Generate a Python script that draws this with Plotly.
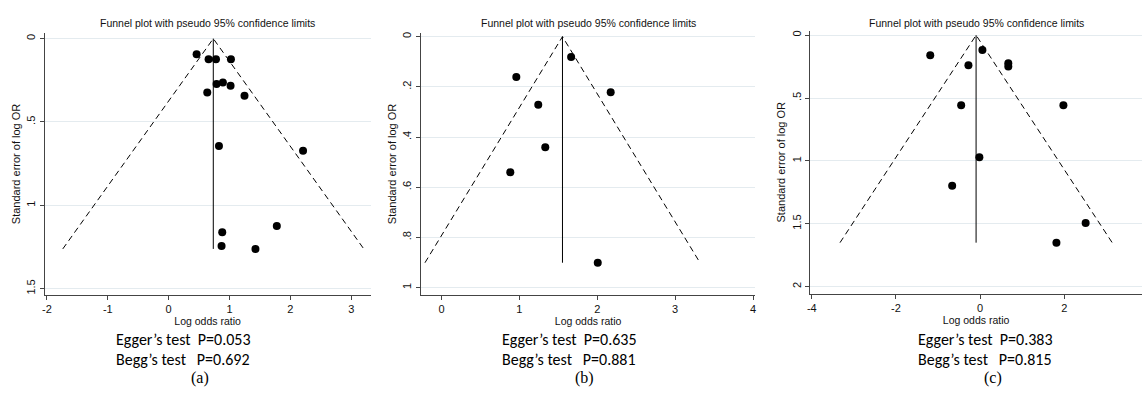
import plotly.graph_objects as go

W, H = 1145, 393

# ---------------- data ----------------
a_logor = [0.459, 0.656, 0.777, 1.023, 0.787, 0.891, 1.017, 0.634, 1.246, 0.826, 2.208, 1.777, 0.880, 0.869, 1.426]
a_se    = [0.094, 0.124, 0.124, 0.124, 0.273, 0.263, 0.283, 0.323, 0.343, 0.645, 0.673, 1.124, 1.162, 1.244, 1.262]
a_pooled = 0.733

b_logor = [1.664, 0.960, 2.172, 1.242, 1.332, 0.883, 2.006]
b_se    = [0.081, 0.161, 0.222, 0.271, 0.441, 0.540, 0.901]
b_pooled = 1.553

c_logor = [-1.185, 0.055, -0.277, 0.671, 0.671, -0.450, 1.981, -0.017, -0.664, 2.510, 1.815]
c_se    = [0.159, 0.117, 0.239, 0.223, 0.250, 0.557, 0.557, 0.971, 1.198, 1.495, 1.651]
c_pooled = -0.095

a_xticks, a_xticktext = [-2, -1, 0, 1, 2, 3], ["-2", "-1", "0", "1", "2", "3"]
b_xticks, b_xticktext = [0, 1, 2, 3, 4], ["0", "1", "2", "3", "4"]
c_xticks, c_xticktext = [-4, -2, 0, 2], ["-4", "-2", "0", "2"]
a_yticks, a_yticktext = [0, 0.5, 1, 1.5], ["0", ".5", "1", "1.5"]
b_yticks, b_yticktext = [0, 0.2, 0.4, 0.6, 0.8, 1], ["0", ".2", ".4", ".6", ".8", "1"]
c_yticks, c_yticktext = [0, 0.5, 1, 1.5, 2], ["0", ".5", "1", "1.5", "2"]

egger = ["0.053", "0.635", "0.383"]
begg = ["0.692", "0.881", "0.815"]
labels = ["(a)", "(b)", "(c)"]
title_text = "Funnel plot with pseudo 95% confidence limits"
z = 1.96

# ---------------- layout geometry (pixels) ----------------
panels = [
    dict(x=a_logor, se=a_se, pooled=a_pooled, xt=a_xticks, xtt=a_xticktext, yt=a_yticks, ytt=a_yticktext,
         px=(41.7, 369.0), py=(31.7, 295.0), xr=(-2.04, 3.32), yr=(-0.036, 1.54),
         textx=111.7, labx=198),
    dict(x=b_logor, se=b_se, pooled=b_pooled, xt=b_xticks, xtt=b_xticktext, yt=b_yticks, ytt=b_yticktext,
         px=(419.3, 755.0), py=(31.7, 295.0), xr=(-0.266, 4.03), yr=(-0.016, 1.0306),
         textx=499.0, labx=584),
    dict(x=c_logor, se=c_se, pooled=c_pooled, xt=c_xticks, xtt=c_xticktext, yt=c_yticks, ytt=c_yticktext,
         px=(810.0, 1143.0), py=(30.0, 293.3), xr=(-4.04, 3.85), yr=(-0.034, 2.056),
         textx=916.7, labx=993.3),
]

fig = go.Figure()
narrow = "Liberation Sans Narrow, Arial Narrow, Liberation Sans, Arial"
annotations = []
layout = {}
for i, p in enumerate(panels):
    k = "" if i == 0 else str(i + 1)
    xa, ya = "x" + k, "y" + k
    semax = max(p["se"])
    # funnel dashed lines
    fig.add_trace(go.Scatter(
        x=[p["pooled"] - z * semax, p["pooled"], p["pooled"] + z * semax],
        y=[semax, 0, semax], mode="lines",
        line=dict(color="black", width=1, dash="6px,4px"), xaxis=xa, yaxis=ya,
        showlegend=False, hoverinfo="skip"))
    # vertical pooled line
    fig.add_trace(go.Scatter(
        x=[p["pooled"], p["pooled"]], y=[0, semax], mode="lines",
        line=dict(color="black", width=1), xaxis=xa, yaxis=ya,
        showlegend=False, hoverinfo="skip"))
    # studies
    fig.add_trace(go.Scatter(
        x=p["x"], y=p["se"], mode="markers",
        marker=dict(color="black", size=8), xaxis=xa, yaxis=ya, showlegend=False))

    x0, x1 = p["px"]
    y0, y1 = p["py"]
    layout["xaxis" + k] = dict(
        domain=[x0 / W, x1 / W], anchor=ya, range=list(p["xr"]),
        tickvals=p["xt"], ticktext=p["xtt"], showgrid=False, zeroline=False, showline=True,
        linecolor="#444", linewidth=1, ticks="outside", ticklen=4, tickcolor="#444",
        tickfont=dict(family=narrow, size=11, color="#111"),
        title=dict(text="Log odds ratio", font=dict(family=narrow, size=10.5, color="#111"), standoff=2))
    layout["yaxis" + k] = dict(
        domain=[1 - y1 / H, 1 - y0 / H], anchor=xa, range=[p["yr"][1], p["yr"][0]],
        tickvals=p["yt"], ticktext=p["ytt"], tickangle=-90,
        showgrid=True, gridcolor="#e4ebef", gridwidth=1, zeroline=False, showline=True,
        linecolor="#444", linewidth=1, ticks="outside", ticklen=4, tickcolor="#444",
        tickfont=dict(family=narrow, size=11, color="#111"),
        title=dict(text="Standard error of log OR", font=dict(family=narrow, size=11, color="#111"), standoff=2))

    annotations.append(dict(text=title_text, x=(x0 + x1) / 2 / W, y=1 - 21.7 / H,
                            xref="paper", yref="paper", showarrow=False, xanchor="center", yanchor="middle",
                            font=dict(family=narrow, size=10.5, color="#111")))
    annotations.append(dict(text="Egger’s test  P=" + egger[i], x=p["textx"] / W, y=1 - 339 / H,
                            xref="paper", yref="paper", showarrow=False, xanchor="left", yanchor="middle",
                            font=dict(family="Carlito, Calibri, Lato", size=16, color="black")))
    annotations.append(dict(text="Begg’s test   P=" + begg[i], x=p["textx"] / W, y=1 - 359 / H,
                            xref="paper", yref="paper", showarrow=False, xanchor="left", yanchor="middle",
                            font=dict(family="Carlito, Calibri, Lato", size=16, color="black")))
    annotations.append(dict(text=labels[i], x=p["labx"] / W, y=1 - 378 / H,
                            xref="paper", yref="paper", showarrow=False, xanchor="center", yanchor="middle",
                            font=dict(family="Liberation Serif, Times New Roman", size=16, color="black")))

fig.update_layout(width=W, height=H, margin=dict(l=0, r=0, t=0, b=0),
                  paper_bgcolor="white", plot_bgcolor="white",
                  annotations=annotations, **layout)
fig.write_html("out.html")
